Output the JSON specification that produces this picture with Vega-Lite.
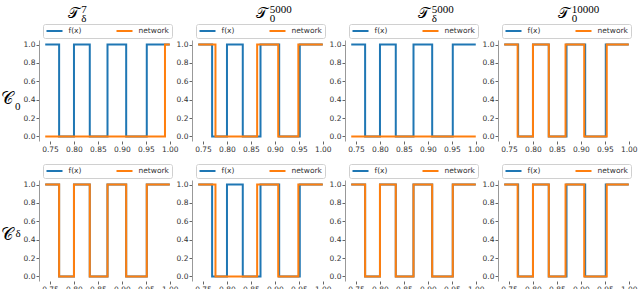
{
  "$schema": "https://vega.github.io/schema/vega-lite/v6.json",
  "background": "white",
  "padding": {"left": 0, "top": 3, "right": 0, "bottom": 0},
  "autosize": {"type": "pad"},
  "datasets": {
    "f": [
      {"series": "f(x)", "x": 0.74, "y": 1}, {"series": "f(x)", "x": 0.769, "y": 0},
      {"series": "f(x)", "x": 0.8, "y": 1}, {"series": "f(x)", "x": 0.833, "y": 0},
      {"series": "f(x)", "x": 0.87, "y": 1}, {"series": "f(x)", "x": 0.909, "y": 0},
      {"series": "f(x)", "x": 0.952, "y": 1}, {"series": "f(x)", "x": 1.0, "y": 1}
    ],
    "net_Td7_C0": [
      {"series": "network", "x": 0.74, "y": 0}, {"series": "network", "x": 0.99, "y": 1},
      {"series": "network", "x": 1.0, "y": 1}
    ],
    "net_T0_5000": [
      {"series": "network", "x": 0.74, "y": 1}, {"series": "network", "x": 0.776, "y": 0},
      {"series": "network", "x": 0.863, "y": 1}, {"series": "network", "x": 0.907, "y": 0},
      {"series": "network", "x": 0.949, "y": 1}, {"series": "network", "x": 1.0, "y": 1}
    ],
    "net_Td5000_C0": [
      {"series": "network", "x": 0.74, "y": 0}, {"series": "network", "x": 1.0, "y": 0}
    ],
    "net_T0_10000": [
      {"series": "network", "x": 0.74, "y": 1}, {"series": "network", "x": 0.768, "y": 0},
      {"series": "network", "x": 0.8, "y": 1}, {"series": "network", "x": 0.833, "y": 0},
      {"series": "network", "x": 0.868, "y": 1}, {"series": "network", "x": 0.907, "y": 0},
      {"series": "network", "x": 0.954, "y": 1}, {"series": "network", "x": 1.0, "y": 1}
    ],
    "net_Td7_Cd": [
      {"series": "network", "x": 0.74, "y": 1}, {"series": "network", "x": 0.769, "y": 0},
      {"series": "network", "x": 0.8, "y": 1}, {"series": "network", "x": 0.833, "y": 0},
      {"series": "network", "x": 0.87, "y": 1}, {"series": "network", "x": 0.909, "y": 0},
      {"series": "network", "x": 0.952, "y": 1}, {"series": "network", "x": 1.0, "y": 1}
    ],
    "net_Td5000_Cd": [
      {"series": "network", "x": 0.74, "y": 1}, {"series": "network", "x": 0.769, "y": 0},
      {"series": "network", "x": 0.8, "y": 1}, {"series": "network", "x": 0.833, "y": 0},
      {"series": "network", "x": 0.87, "y": 1}, {"series": "network", "x": 0.909, "y": 0},
      {"series": "network", "x": 0.952, "y": 1}, {"series": "network", "x": 1.0, "y": 1}
    ]
  },
  "config": {
    "view": {"stroke": null},
    "axis": {
      "grid": false, "labelFont": "DejaVu Sans", "labelFontSize": 7.5, "labelColor": "#333",
      "tickColor": "#666", "tickSize": 3, "labelPadding": 1, "domainColor": "#999"
    },
    "axisX": {"domain": false},
    "legend": {
      "orient": "top", "direction": "horizontal", "columns": 2, "columnPadding": 34,
      "symbolType": "M-1,0H1", "symbolSize": 256, "symbolStrokeWidth": 2, "clipHeight": 9,
      "labelFont": "DejaVu Sans", "labelFontSize": 7.5, "labelColor": "#333", "labelOffset": 5,
      "strokeColor": "#d0d0d0", "fillColor": "white", "cornerRadius": 2, "padding": 2.5, "offset": 2,
      "layout": {"top": {"anchor": "middle"}}
    },
    "title": {
      "font": "Liberation Serif", "fontSize": 15, "fontWeight": "normal", "color": "black",
      "anchor": "start", "align": "left", "frame": "group", "offset": -2,
      "subtitleFont": "Liberation Serif", "subtitleFontSize": 11, "subtitleColor": "black",
      "subtitleLineHeight": 9, "subtitlePadding": -17
    }
  },
  "spacing": 10,
  "resolve": {"scale": {"color": "independent"}, "legend": {"color": "independent"}},
  "vconcat": [
    {
      "title": {"text": "𝒞", "orient": "left", "angle": 0, "anchor": "middle", "frame": "bounds", "align": "right", "baseline": "middle", "dx": 10, "dy": 21, "offset": 0, "fontSize": 17},
      "spacing": 16,
      "bounds": "flush",
      "resolve": {"scale": {"color": "independent"}, "legend": {"color": "independent"}},
      "hconcat": [
        {
          "width": 137, "height": 101,
          "title": {"text": "𝒯", "subtitle": ["\u200b\u00a0\u00a0\u00a0\u00a0\u00a07", "\u200b\u00a0\u00a0\u00a0\u00a0\u00a0δ"], "dx": 28.5},
          "encoding": {
            "x": {"field": "x", "type": "quantitative", "scale": {"domain": [0.727, 1.013], "nice": false, "zero": false}, "axis": {"values": [0.75, 0.8, 0.85, 0.9, 0.95, 1.0], "format": ".2f", "title": null}},
            "y": {"field": "y", "type": "quantitative", "scale": {"domain": [-0.05, 1.05], "nice": false, "zero": false}, "axis": {"values": [0, 0.2, 0.4, 0.6, 0.8, 1.0], "format": ".1f", "title": "0", "titleAngle": 0, "titleAlign": "right", "titleBaseline": "middle", "titleY": 66, "titleFont": "Liberation Serif", "titleFontSize": 11, "titleFontWeight": "normal", "titleColor": "black", "titlePadding": 3}},
            "color": {"field": "series", "type": "nominal", "scale": {"domain": ["f(x)", "network"], "range": ["#1f77b4", "#ff7f0e"]}, "legend": {"title": null}}
          },
          "layer": [
            {"data": {"name": "f"}, "mark": {"type": "line", "interpolate": "step-after", "strokeWidth": 2}},
            {"data": {"name": "net_Td7_C0"}, "mark": {"type": "line", "interpolate": "step-after", "strokeWidth": 2}}
          ]
        },
        {
          "width": 137, "height": 101,
          "title": {"text": "𝒯", "subtitle": ["\u200b\u00a0\u00a0\u00a0\u00a0\u00a05000", "\u200b\u00a0\u00a0\u00a0\u00a0\u00a00"], "dx": 64},
          "encoding": {
            "x": {"field": "x", "type": "quantitative", "scale": {"domain": [0.727, 1.013], "nice": false, "zero": false}, "axis": {"values": [0.75, 0.8, 0.85, 0.9, 0.95, 1.0], "format": ".2f", "title": null}},
            "y": {"field": "y", "type": "quantitative", "scale": {"domain": [-0.05, 1.05], "nice": false, "zero": false}, "axis": {"values": [0, 0.2, 0.4, 0.6, 0.8, 1.0], "format": ".1f", "title": null}},
            "color": {"field": "series", "type": "nominal", "scale": {"domain": ["f(x)", "network"], "range": ["#1f77b4", "#ff7f0e"]}, "legend": {"title": null}}
          },
          "layer": [
            {"data": {"name": "f"}, "mark": {"type": "line", "interpolate": "step-after", "strokeWidth": 2}},
            {"data": {"name": "net_T0_5000"}, "mark": {"type": "line", "interpolate": "step-after", "strokeWidth": 2}}
          ]
        },
        {
          "width": 137, "height": 101,
          "title": {"text": "𝒯", "subtitle": ["\u200b\u00a0\u00a0\u00a0\u00a0\u00a05000", "\u200b\u00a0\u00a0\u00a0\u00a0\u00a0δ"], "dx": 73},
          "encoding": {
            "x": {"field": "x", "type": "quantitative", "scale": {"domain": [0.727, 1.013], "nice": false, "zero": false}, "axis": {"values": [0.75, 0.8, 0.85, 0.9, 0.95, 1.0], "format": ".2f", "title": null}},
            "y": {"field": "y", "type": "quantitative", "scale": {"domain": [-0.05, 1.05], "nice": false, "zero": false}, "axis": {"values": [0, 0.2, 0.4, 0.6, 0.8, 1.0], "format": ".1f", "title": null}},
            "color": {"field": "series", "type": "nominal", "scale": {"domain": ["f(x)", "network"], "range": ["#1f77b4", "#ff7f0e"]}, "legend": {"title": null}}
          },
          "layer": [
            {"data": {"name": "f"}, "mark": {"type": "line", "interpolate": "step-after", "strokeWidth": 2}},
            {"data": {"name": "net_Td5000_C0"}, "mark": {"type": "line", "interpolate": "step-after", "strokeWidth": 2}}
          ]
        },
        {
          "width": 137, "height": 101,
          "title": {"text": "𝒯", "subtitle": ["\u200b\u00a0\u00a0\u00a0\u00a0\u00a010000", "\u200b\u00a0\u00a0\u00a0\u00a0\u00a00"], "dx": 60},
          "encoding": {
            "x": {"field": "x", "type": "quantitative", "scale": {"domain": [0.727, 1.013], "nice": false, "zero": false}, "axis": {"values": [0.75, 0.8, 0.85, 0.9, 0.95, 1.0], "format": ".2f", "title": null}},
            "y": {"field": "y", "type": "quantitative", "scale": {"domain": [-0.05, 1.05], "nice": false, "zero": false}, "axis": {"values": [0, 0.2, 0.4, 0.6, 0.8, 1.0], "format": ".1f", "title": null}},
            "color": {"field": "series", "type": "nominal", "scale": {"domain": ["f(x)", "network"], "range": ["#1f77b4", "#ff7f0e"]}, "legend": {"title": null}}
          },
          "layer": [
            {"data": {"name": "f"}, "mark": {"type": "line", "interpolate": "step-after", "strokeWidth": 2}},
            {"data": {"name": "net_T0_10000"}, "mark": {"type": "line", "interpolate": "step-after", "strokeWidth": 2}}
          ]
        }
      ]
    },
    {
      "title": {"text": "𝒞", "orient": "left", "angle": 0, "anchor": "middle", "frame": "bounds", "align": "right", "baseline": "middle", "dx": 10, "dy": 7, "offset": 0, "fontSize": 17},
      "spacing": 16,
      "bounds": "flush",
      "resolve": {"scale": {"color": "independent"}, "legend": {"color": "independent"}},
      "hconcat": [
        {
          "width": 137, "height": 101,
          "encoding": {
            "x": {"field": "x", "type": "quantitative", "scale": {"domain": [0.727, 1.013], "nice": false, "zero": false}, "axis": {"values": [0.75, 0.8, 0.85, 0.9, 0.95, 1.0], "format": ".2f", "title": null}},
            "y": {"field": "y", "type": "quantitative", "scale": {"domain": [-0.05, 1.05], "nice": false, "zero": false}, "axis": {"values": [0, 0.2, 0.4, 0.6, 0.8, 1.0], "format": ".1f", "title": "δ", "titleAngle": 0, "titleAlign": "right", "titleBaseline": "middle", "titleY": 53, "titleFont": "Liberation Serif", "titleFontSize": 11, "titleFontWeight": "normal", "titleColor": "black", "titlePadding": 3}},
            "color": {"field": "series", "type": "nominal", "scale": {"domain": ["f(x)", "network"], "range": ["#1f77b4", "#ff7f0e"]}, "legend": {"title": null}}
          },
          "layer": [
            {"data": {"name": "f"}, "mark": {"type": "line", "interpolate": "step-after", "strokeWidth": 2}},
            {"data": {"name": "net_Td7_Cd"}, "mark": {"type": "line", "interpolate": "step-after", "strokeWidth": 2}}
          ]
        },
        {
          "width": 137, "height": 101,
          "encoding": {
            "x": {"field": "x", "type": "quantitative", "scale": {"domain": [0.727, 1.013], "nice": false, "zero": false}, "axis": {"values": [0.75, 0.8, 0.85, 0.9, 0.95, 1.0], "format": ".2f", "title": null}},
            "y": {"field": "y", "type": "quantitative", "scale": {"domain": [-0.05, 1.05], "nice": false, "zero": false}, "axis": {"values": [0, 0.2, 0.4, 0.6, 0.8, 1.0], "format": ".1f", "title": null}},
            "color": {"field": "series", "type": "nominal", "scale": {"domain": ["f(x)", "network"], "range": ["#1f77b4", "#ff7f0e"]}, "legend": {"title": null}}
          },
          "layer": [
            {"data": {"name": "f"}, "mark": {"type": "line", "interpolate": "step-after", "strokeWidth": 2}},
            {"data": {"name": "net_T0_5000"}, "mark": {"type": "line", "interpolate": "step-after", "strokeWidth": 2}}
          ]
        },
        {
          "width": 137, "height": 101,
          "encoding": {
            "x": {"field": "x", "type": "quantitative", "scale": {"domain": [0.727, 1.013], "nice": false, "zero": false}, "axis": {"values": [0.75, 0.8, 0.85, 0.9, 0.95, 1.0], "format": ".2f", "title": null}},
            "y": {"field": "y", "type": "quantitative", "scale": {"domain": [-0.05, 1.05], "nice": false, "zero": false}, "axis": {"values": [0, 0.2, 0.4, 0.6, 0.8, 1.0], "format": ".1f", "title": null}},
            "color": {"field": "series", "type": "nominal", "scale": {"domain": ["f(x)", "network"], "range": ["#1f77b4", "#ff7f0e"]}, "legend": {"title": null}}
          },
          "layer": [
            {"data": {"name": "f"}, "mark": {"type": "line", "interpolate": "step-after", "strokeWidth": 2}},
            {"data": {"name": "net_Td5000_Cd"}, "mark": {"type": "line", "interpolate": "step-after", "strokeWidth": 2}}
          ]
        },
        {
          "width": 137, "height": 101,
          "encoding": {
            "x": {"field": "x", "type": "quantitative", "scale": {"domain": [0.727, 1.013], "nice": false, "zero": false}, "axis": {"values": [0.75, 0.8, 0.85, 0.9, 0.95, 1.0], "format": ".2f", "title": null}},
            "y": {"field": "y", "type": "quantitative", "scale": {"domain": [-0.05, 1.05], "nice": false, "zero": false}, "axis": {"values": [0, 0.2, 0.4, 0.6, 0.8, 1.0], "format": ".1f", "title": null}},
            "color": {"field": "series", "type": "nominal", "scale": {"domain": ["f(x)", "network"], "range": ["#1f77b4", "#ff7f0e"]}, "legend": {"title": null}}
          },
          "layer": [
            {"data": {"name": "f"}, "mark": {"type": "line", "interpolate": "step-after", "strokeWidth": 2}},
            {"data": {"name": "net_T0_10000"}, "mark": {"type": "line", "interpolate": "step-after", "strokeWidth": 2}}
          ]
        }
      ]
    }
  ]
}
